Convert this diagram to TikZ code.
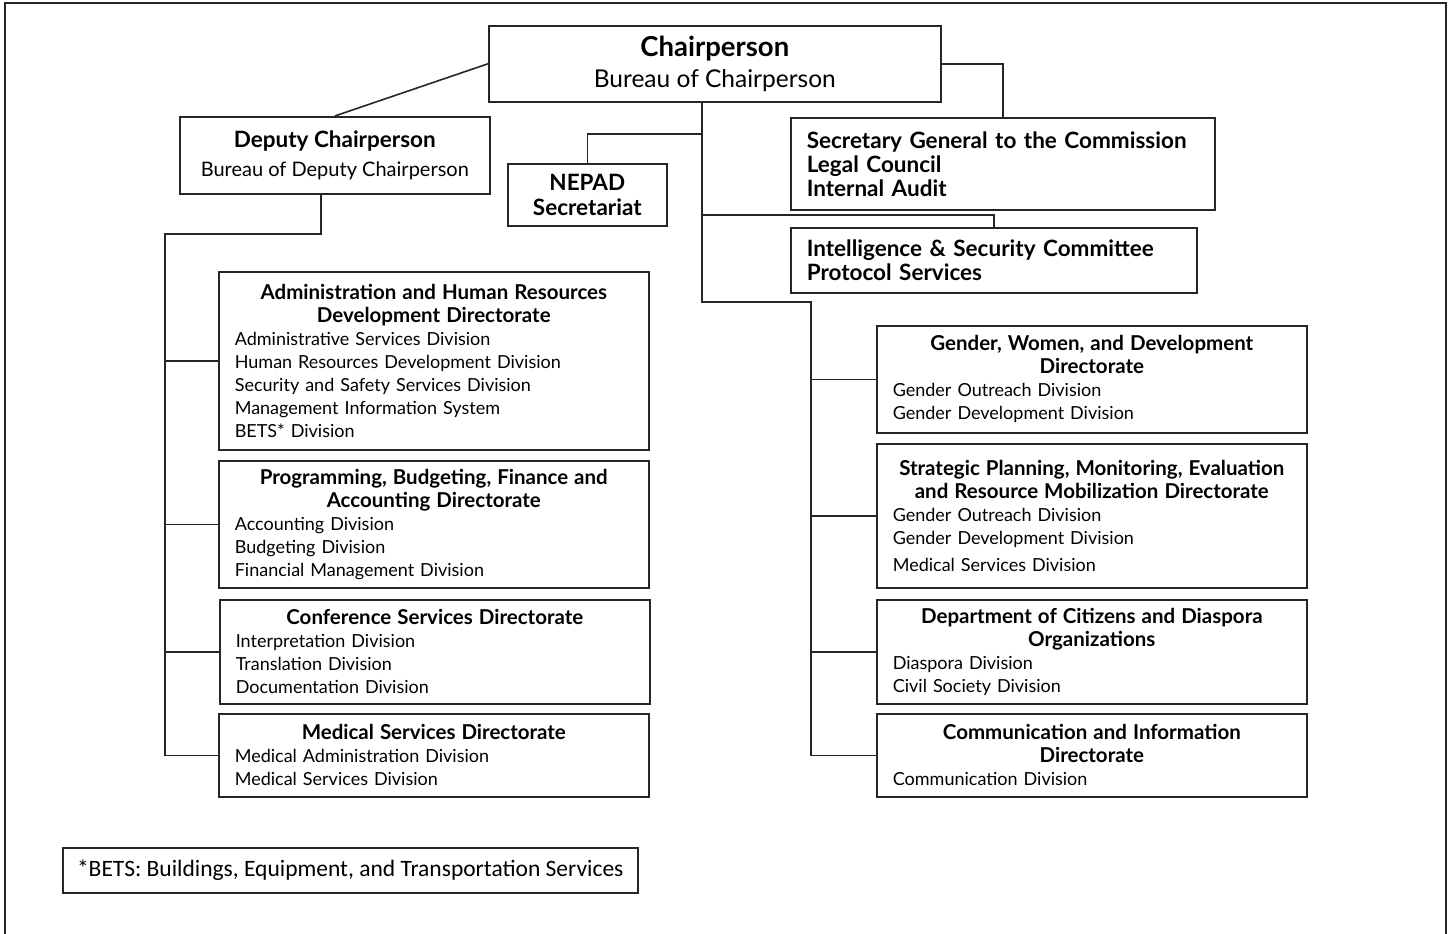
\documentclass[tikz,border=0pt]{standalone}
\usepackage{fontspec}
\setmainfont{Lato}
\newfontfamily\notefont{Carlito}
\usetikzlibrary{positioning}

\newcommand{\dirtitle}[1]{{\centering\bfseries #1\par}}

\begin{document}
\begin{tikzpicture}[x=1pt,y=-1pt,
  line width=1.6pt, draw=black!85,
  topbox/.style={draw, rectangle, anchor=north west, align=center, inner sep=0pt},
  listbox/.style={draw, rectangle, anchor=north west, align=left, inner xsep=16pt, inner ysep=0pt,
    font=\fontsize{22.5}{24}\selectfont\bfseries},
  dirbox/.style={draw, rectangle, anchor=north west, align=left, inner xsep=16pt, inner ysep=0pt,
    text width=398pt, font=\fontsize{18}{23}\selectfont},
  dirhead/.style={}]
\useasboundingbox (0,0) rectangle (1452,934);
\draw[line width=1.2pt] (5,934) -- (5,3) -- (1446,3) -- (1446,934);

% top level
\node(chair)[topbox, minimum width=452pt, minimum height=76pt] at (488,25)
  {{\fontsize{27.5}{29}\selectfont\bfseries Chairperson}\\[7pt]{\fontsize{24.5}{26}\selectfont Bureau of Chairperson}};
\node(deputy)[topbox, minimum width=310pt, minimum height=77pt] at (179,116)
  {{\fontsize{22.5}{26}\selectfont\bfseries Deputy Chairperson}\\[10pt]{\fontsize{20}{24}\selectfont Bureau of Deputy Chairperson}};
\node(nepad)[topbox, minimum width=159pt, minimum height=62pt] at (507,163)
  {{\fontsize{22.5}{25}\selectfont\bfseries NEPAD}\\[8pt]{\fontsize{22.5}{25}\selectfont\bfseries Secretariat}};
\node(secgen)[listbox, text width=392pt, minimum height=92pt] at (790,117)
  {Secretary General to the Commission\\Legal Council\\Internal Audit};
\node(intel)[listbox, text width=374pt, minimum height=65pt] at (790,227)
  {Intelligence \& Security Committee\\Protocol Services};

% left directorates
\node(admin)[dirbox, minimum height=178pt] at (218,271)
  {\dirtitle{\fontsize{20.5}{23}\selectfont Administration and Human Resources\\Development Directorate}
   Administrative Services Division\\Human Resources Development Division\\Security and Safety Services Division\\Management Information System\\BETS* Division};
\node(prog)[dirbox, minimum height=127pt] at (218,460)
  {\dirtitle{\fontsize{20.5}{23}\selectfont Programming, Budgeting, Finance and\\Accounting Directorate}
   Accounting Division\\Budgeting Division\\Financial Management Division};
\node(conf)[dirbox, minimum height=104pt] at (219,599)
  {\dirtitle{\fontsize{20.5}{23}\selectfont Conference Services Directorate}
   Interpretation Division\\Translation Division\\Documentation Division};
\node(medical)[dirbox, minimum height=83pt] at (218,713)
  {\dirtitle{\fontsize{20.5}{23}\selectfont Medical Services Directorate}
   Medical Administration Division\\Medical Services Division};

% right directorates
\node(gender)[dirbox, minimum height=107pt] at (876,325)
  {\dirtitle{\fontsize{20.5}{23}\selectfont Gender, Women, and Development\\Directorate}
   Gender Outreach Division\\Gender Development Division};
\node(strat)[dirbox, minimum height=144pt] at (876,443)
  {\dirtitle{\fontsize{20.5}{23}\selectfont Strategic Planning, Monitoring, Evaluation\\and Resource Mobilization Directorate}
   Gender Outreach Division\\Gender Development Division\\[4pt]Medical Services Division};
\node(dept)[dirbox, minimum height=104pt] at (876,599)
  {\dirtitle{\fontsize{20.5}{23}\selectfont Department of Citizens and Diaspora\\Organizations}
   Diaspora Division\\Civil Society Division};
\node(comm)[dirbox, minimum height=83pt] at (876,713)
  {\dirtitle{\fontsize{20.5}{23}\selectfont Communication and Information\\Directorate}
   Communication Division};

% footnote
\node(note)[draw, rectangle, anchor=north west, minimum width=575pt, minimum height=45pt, inner sep=0pt,
  font=\notefont\fontsize{23.5}{26}\selectfont] at (62,847)
  {*BETS: Buildings, Equipment, and Transportation Services};

% connector points
\coordinate(spineA) at (702,134);
\coordinate(spineB) at (702,215);
\coordinate(spineC) at (702,302);
\coordinate(rspine) at (811,302);
\coordinate(dturn) at (321,234);
\coordinate(lspine) at (165,234);

\draw (chair.west) -- (deputy.north);
\draw (chair.east) -| (secgen.north);
\draw (chair.south -| spineC) -- (spineC) -- (rspine) |- (comm.west);
\draw (spineA) -| (nepad.north);
\draw (spineB) -| (intel.north);
\foreach \n in {gender,strat,dept}
  \draw (rspine |- \n.west) -- (\n.west);
\draw (deputy.south -| dturn) -- (dturn) -- (lspine) |- (medical.west);
\foreach \n in {admin,prog,conf}
  \draw (lspine |- \n.west) -- (\n.west);
\end{tikzpicture}
\end{document}
